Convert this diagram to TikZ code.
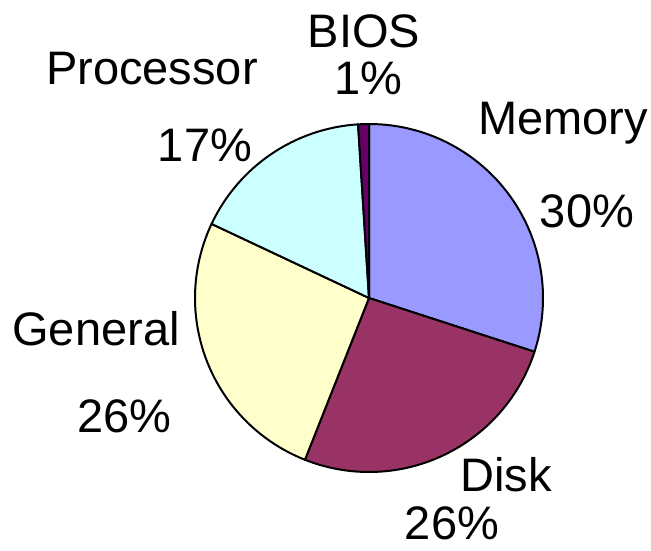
\documentclass[tikz,border=0pt]{standalone}
\usepackage{fontspec}
\setmainfont{Liberation Sans}
\definecolor{memc}{HTML}{9999FF}
\definecolor{diskc}{HTML}{993366}
\definecolor{genc}{HTML}{FFFFCC}
\definecolor{procc}{HTML}{CCFFFF}
\definecolor{biosc}{HTML}{660066}
\begin{document}
\begin{tikzpicture}[x=1pt,y=1pt,
  slice/.style={draw=black,line width=2pt,line join=round},
  lbl/.style={anchor=base,inner sep=0pt,text depth=0pt,font=\fontsize{47}{50}\selectfont}]
\useasboundingbox (0,0) rectangle (651,550);
\coordinate (c) at (369,252);
\def\R{174}
\filldraw[slice,fill=memc] (c) -- +(90:\R) arc[start angle=90,end angle=-18,radius=\R] -- cycle;
\filldraw[slice,fill=diskc] (c) -- +(-18:\R) arc[start angle=-18,end angle=-111.6,radius=\R] -- cycle;
\filldraw[slice,fill=genc] (c) -- +(-111.6:\R) arc[start angle=-111.6,end angle=-205.2,radius=\R] -- cycle;
\filldraw[slice,fill=procc] (c) -- +(154.8:\R) arc[start angle=154.8,end angle=93.6,radius=\R] -- cycle;
\filldraw[slice,fill=biosc] (c) -- +(93.6:\R) arc[start angle=93.6,end angle=90,radius=\R] -- cycle;
\node[lbl] (bios) at (364,502) {BIOS};
\node[lbl] (biosp) at (368,455) {1\%};
\node[lbl] (proc) at (152,465) {Processor};
\node[lbl] (procp) at (205,388) {17\%};
\node[lbl] (mem) at (563,415) {Memory};
\node[lbl] (memp) at (587,323) {30\%};
\node[lbl] (gen) at (96,205) {General};
\node[lbl] (genp) at (124.5,118) {26\%};
\node[lbl] (disk) at (506,59) {Disk};
\node[lbl] (diskp) at (452,11) {26\%};
\end{tikzpicture}
\end{document}
